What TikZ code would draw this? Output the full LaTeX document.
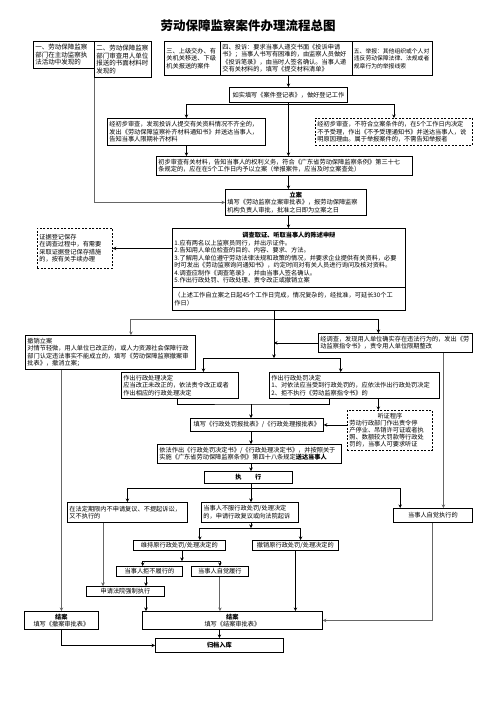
\documentclass[tikz,border=0pt]{standalone}
\usepackage{fontspec}
\setmainfont{Noto Sans CJK SC}
\usetikzlibrary{calc}
\usetikzlibrary{arrows.meta}

\tikzset{
  box/.style={draw, line width=0.8pt, anchor=north west, inner sep=2pt, align=left,
    font=\fontsize{6.2}{7.5}\selectfont},
  dbox/.style={box, dash pattern=on 2pt off 1.5pt},
  arr/.style={line width=0.8pt, -{Stealth[length=3.5pt,width=3.5pt]}},
  gline/.style={line width=1pt, black!60},
}

\begin{document}
\begin{tikzpicture}[x=1pt,y=-1pt]
	\useasboundingbox (0,0) rectangle (496,702);
	\node[font=\fontsize{12.5}{14}\selectfont\bfseries] (title) at (248,26) {劳动保障监察案件办理流程总图};

	\node[box, font=\fontsize{6.5}{7.5}\selectfont, text width=57pt, minimum height=27pt] (b1) at (33,41) {一、劳动保障监察\\部门在主动监察执\\法活动中发现的};
	\node[box, font=\fontsize{6.5}{7.5}\selectfont, text width=53pt, minimum height=36pt] (b2) at (94,41) {二、劳动保障监察\\部门审查用人单位\\报送的书面材料时\\发现的};
	\node[box, text width=52pt, minimum height=34pt] (b3) at (164,41) {三、上级交办、有\\关机关移送、下级\\机关报送的案件};
	\node[box, text width=128pt, minimum height=34pt] (b4) at (220,41) {四、投诉：要求当事人递交书面《投诉申请\\书》；当事人书写有困难的，由监察人员做好\\《投诉笔录》，由当时人签名确认。当事人递\\交有关材料的，填写《提交材料清单》};
	\node[box, font=\fontsize{5.8}{7.5}\selectfont, inner sep=1.5pt, text width=77pt, minimum height=34pt] (b5) at (352,41) {五、举报：其他组织或个人对\\违反劳动保障法律、法规或者\\规章行为的举报线索};

	\node[box, align=center, text width=114pt, minimum height=15pt] (dengji) at (229,87) {如实填写《案件登记表》，做好登记工作};
	\node[box, text width=154pt, minimum height=27pt] (buqi) at (107,118) {经初步审查，发现投诉人提交有关资料情况不齐全的，\\发出《劳动保障监察补齐材料通知书》并送达当事人，\\告知当事人限期补齐材料};
	\node[dbox, text width=153pt, minimum height=27pt] (buyu) at (315,118) {经初步审查，不符合立案条件的，在5个工作日内决定\\不予受理，作出《不予受理通知书》并送达当事人，说\\明原因理由。属于举报案件的，不需告知举报者};
	\node[box, text width=252pt, minimum height=19pt] (chubu) at (156,156) {初步审查有关材料，告知当事人的权利义务，符合《广东省劳动保障监察条例》第三十七\\条规定的，应在在5个工作日内予以立案（举报案件，应当及时立案查处）};
	\node[box, text width=137pt, minimum height=26pt] (lian) at (225,189) {\makebox[\linewidth]{\bfseries 立案}\\填写《劳动监察立案审批表》，报劳动保障监察\\机构负责人审批，批准之日即为立案之日};

	% 调查
	\node[dbox, text width=71pt, minimum height=40pt] (zhengju) at (37,228) {证据登记保存\\在调查过程中，有需要\\采取证据登记保存措施\\的，按有关手续办理};
	\node[box, text width=229pt, minimum height=59pt] (diaocha) at (172,228) {\makebox[\linewidth]{\bfseries 调查取证、听取当事人的陈述申辩}\\1.应有两名以上监察员同行，并出示证件。\\2.告知用人单位检查的目的、内容、要求、方法。\\3.了解用人单位遵守劳动法律法规和政策的情况，并要求企业提供有关资料，必要\\时可发出《劳动监察询问通知书》，约定时间对有关人员进行询问及核对资料。\\4.调查应制作《调查笔录》，并由当事人签名确认。\\5.作出行政处罚、行政处理、责令改正或撤销立案};
	\node[box, text width=229pt, minimum height=23pt] (qixian) at (172,287) {（上述工作自立案之日起45个工作日完成，情况复杂的，经批准，可延长30个工\\作日）};

	\node[box, text width=166pt, minimum height=34pt] (chexiao) at (25,335) {撤销立案\\对情节轻微，用人单位已改正的，或人力资源社会保障行政\\部门认定违法事实不能成立的，填写《劳动保障监察撤案审\\批表》，撤消立案；};
	\node[box, text width=150pt, minimum height=19pt] (zhiling) at (318,333) {经调查，发现用人单位确实存在违法行为的，发出《劳\\动监察指令书》，责令用人单位限期整改};
	\node[box, text width=113pt, minimum height=26pt] (chuli) at (121,372) {作出行政处理决定\\应当改正未改正的，依法责令改正或者\\作出相应的行政处理决定};
	\node[box, text width=166pt, minimum height=26pt] (chufa) at (269,372) {作出行政处罚决定\\1、对依法应当受到行政处罚的，应依法作出行政处罚决定\\2、拒不执行《劳动监察指令书》的};
	\node[dbox, font=\fontsize{6.2}{7}\selectfont, text width=81pt, minimum height=40pt] (tingzheng) at (347,410) {\makebox[\linewidth]{听证程序}\\劳动行政部门作出责令停\\产停业、吊销许可证或者执\\照、数额较大罚款等行政处\\罚的，当事人可要求听证};
	\node[box, align=center, text width=129pt, minimum height=13pt] (baopi) at (190,418) {填写《行政处罚报批表》/《行政处理报批表》};
	\node[box, text width=180pt, minimum height=19pt] (yifa) at (157,444) {依法作出《行政处罚决定书》/《行政处理决定书》，并按照关于\\实施《广东省劳动保障监察条例》第四十八条规定\textbf{送达当事人}};
	\node[box, align=center, font=\fontsize{6.2}{7.5}\selectfont\bfseries, text width=84pt, minimum height=12pt] (zhixing) at (204,471) {执\hspace{2.2em}行};

	% 执行之后
	\node[box, text width=116pt, minimum height=20pt] (buti) at (67,502) {在法定期限内不申请复议、不提起诉讼，\\又不执行的};
	\node[box, text width=93pt, minimum height=20pt] (bufu) at (201,502) {当事人不服行政处罚/处理决定\\的，申请行政复议或向法院起诉};
	\node[box, align=center, text width=75pt, minimum height=14pt] (zijue) at (393,508) {当事人自觉执行的};
	\node[box, align=center, inner sep=1.5pt, text width=89pt, minimum height=10pt] (weichi) at (133,540) {维持原行政处罚/处理决定的};
	\node[box, align=center, inner sep=1.5pt, text width=83pt, minimum height=10pt] (chexiaoyuan) at (252,540) {撤销原行政处罚/处理决定的};
	\node[box, align=center, inner sep=1.5pt, text width=63pt, minimum height=10pt] (jubu) at (116,566) {当事人拒不履行的};
	\node[box, align=center, inner sep=1.5pt, text width=54pt, minimum height=10pt] (zijuelvxing) at (191,566) {当事人自觉履行};
	\node[box, align=center, inner sep=1.5pt, text width=75pt, minimum height=10pt] (qiangzhi) at (86,586) {申请法院强制执行};
	\node[box, align=center, font=\fontsize{6.2}{7}\selectfont, text width=70pt, minimum height=18pt] (jiean1) at (24,611) {\textbf{结案}\\填写《撤案审批表》};
	\node[box, align=center, font=\fontsize{6.2}{7}\selectfont, text width=176pt, minimum height=18pt] (jiean2) at (142,611) {\textbf{结案}\\填写《结案审批表》};
	\node[box, align=center, text width=124pt, minimum height=14pt] (guidang) at (155,638) {\textbf{归档入库}};

	\coordinate (sp1) at ([yshift=-2pt]dengji.south);
	\coordinate (j1) at (274,319);
	\coordinate (j2) at (274,358);
	\coordinate (j3) at (251,404);
	\coordinate (j4) at (251,488);
	\coordinate (j5) at (251,528);
	\coordinate (j6) at (182,561);
	\coordinate (col1) at (146,600);
	\coordinate (col2) at (103,600);
	\coordinate (r1) at ($(zhiling.south west)!0.81!(zhiling.south east)$);
	\coordinate (r2) at ($(chufa.south west)!0.64!(chufa.south east)$);

	\draw[arr] (b4.south -| dengji) -- (dengji.north);
	\draw[arr,gline] (b2.south west) |- (lian.west);
	\draw[arr] (dengji.south) -- (chubu.north -| dengji);
	\draw[arr] (sp1) -| (buqi.north);
	\draw[arr] (sp1) -| (buyu.north);
	\draw[arr] (buqi.south) -- (buqi.south |- chubu.north);
	\draw[arr] (chubu.south -| dengji) -- (lian.north -| dengji);
	\draw[arr] (lian.south -| dengji) -- (diaocha.north -| dengji);
	\draw[arr] (zhengju.east -| diaocha.west) -- (zhengju.east);

	\draw[arr] (qixian.south -| j1) -- (j2);
	\draw[arr,gline] (j1) -| ($(chexiao.north west)!0.62!(chexiao.north east)$);
	\draw[arr] (j1) -| ($(zhiling.north west)!0.39!(zhiling.north east)$);
	\draw[arr] (zhiling.west) -- (zhiling.west -| j1);
	\draw[arr] (j2) -| ($(chuli.north west)!0.7!(chuli.north east)$);
	\draw[arr] (j2) -| ($(chufa.north west)!0.42!(chufa.north east)$);
	\draw[arr,gline] (r1) -- (r1 |- zijue.north);

	\draw ($(chuli.south west)!0.48!(chuli.south east)$) |- (j3) -| ($(chufa.south west)!0.35!(chufa.south east)$);
	\draw[arr] (j3) -- (j3 |- baopi.north);
	\draw[arr] (r2) -- (r2 |- tingzheng.north);
	\draw[arr] (baopi.east -| tingzheng.west) -- (baopi.east);
	\draw[arr] (baopi.south -| j3) -- (yifa.north -| j3);
	\draw[arr] (yifa.south -| j3) -- (zhixing.north -| j3);

	\draw (zhixing.south -| j4) -- (j4);
	\draw[arr] (j4) -- (bufu.north -| j4);
	\draw[arr] (j4) -| (buti.north);
	\draw[arr] (j4) -| ($(zijue.north west)!0.09!(zijue.north east)$);
	\draw[arr] (bufu.south -| j5) -- (j5);
	\draw[arr] (j5) -| ($(weichi.north west)!0.72!(weichi.north east)$);
	\draw[arr] (j5) -| ($(chexiaoyuan.north west)!0.56!(chexiaoyuan.north east)$);
	\draw[arr] (weichi.south -| j6) -- (j6);
	\draw[arr] (j6) -| ($(jubu.north west)!0.4!(jubu.north east)$);
	\draw[arr] (j6) -| (zijuelvxing.north);
	\draw[arr] (jubu.south -| col1) -- (qiangzhi.north -| col1);
	\draw[arr,gline] (buti.south -| col2) -- (qiangzhi.north -| col2);

	% 结案
	\draw[arr] (qiangzhi.south -| col1) -- (jiean2.north -| col1);
	\draw[arr,gline] (zijuelvxing.south) -- (zijuelvxing.south |- jiean2.north);
	\draw[arr] (chexiaoyuan.south) -- (chexiaoyuan.south |- jiean2.north);
	\draw[arr,gline] (zijue.south) |- (jiean2.east);
	\draw[arr,gline] (jiean1.north |- chexiao.south) -- (jiean1.north);
	\draw[arr] (jiean1.south) |- (guidang.west);
	\draw[arr] (jiean2.south -| guidang) -- (guidang.north);
\end{tikzpicture}
\end{document}
